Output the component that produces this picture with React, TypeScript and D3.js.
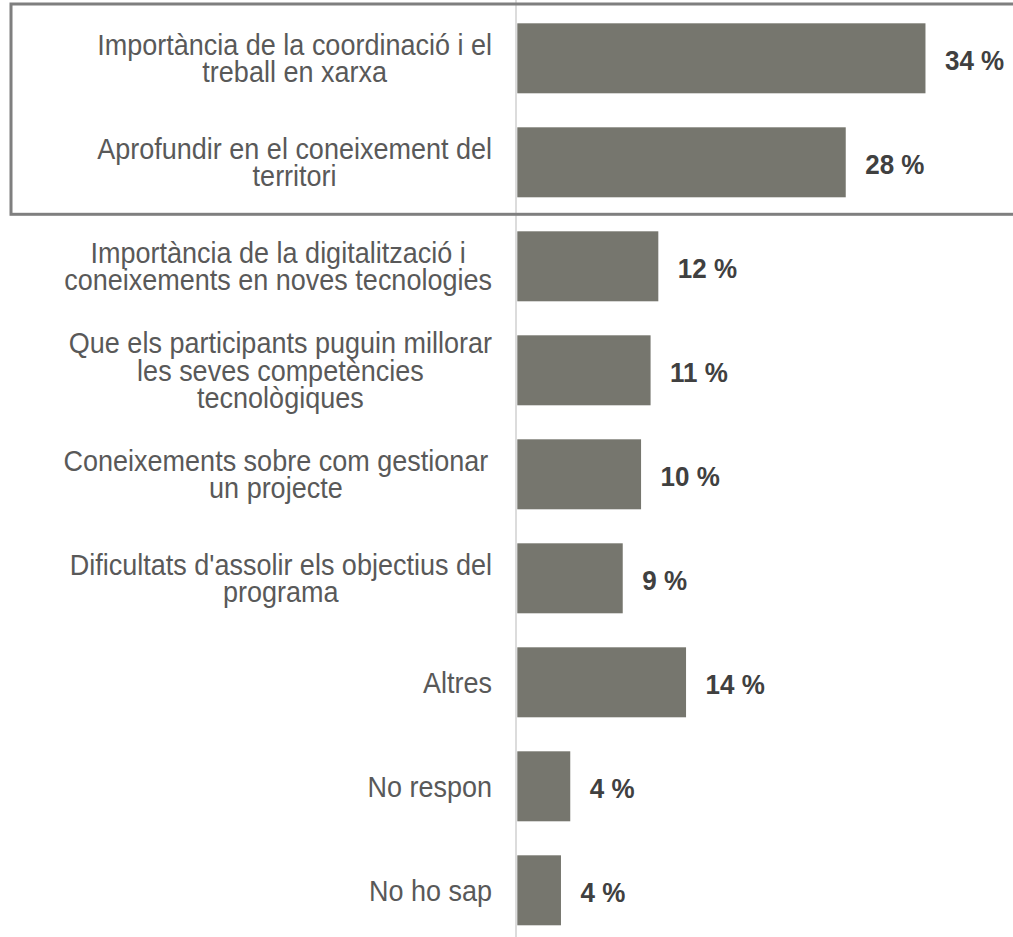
import React from "react";
import * as d3 from "d3";

const categories = [
  "coordinacio",
  "territori",
  "digitalitzacio",
  "competencies",
  "projecte",
  "objectius",
  "altres",
  "norespon",
  "nohosap",
];

const labelLines: string[][] = [
  ["Importància de la coordinació i el", "treball en xarxa"],
  ["Aprofundir en el coneixement del", "territori"],
  ["Importància de la digitalització i", "coneixements en noves tecnologies"],
  ["Que els participants puguin millorar", "les seves competències", "tecnològiques"],
  ["Coneixements sobre com gestionar ", "un projecte"],
  ["Dificultats d'assolir els objectius del", "programa"],
  ["Altres"],
  ["No respon"],
  ["No ho sap"],
];

const values = [34.3, 27.6, 11.85, 11.2, 10.4, 8.86, 14.18, 4.45, 3.67];

const highlighted = ["coordinacio", "territori"];

const W = 1013;
const H = 937;
const CAT_FONT = 27;
const VAL_FONT = 26;
const LINE_H = 27.4;
const LABEL_RIGHT = 492;
const CAT_STRETCH = 1.06;
const VAL_STRETCH = 1.08;

let ctx: CanvasRenderingContext2D | null = null;
function measure(text: string, font: string) {
  if (!ctx) ctx = document.createElement("canvas").getContext("2d");
  if (!ctx) return text.length * 12;
  ctx.font = font;
  return ctx.measureText(text).width;
}

export default function App() {
  const x = d3.scaleLinear().domain([0, 40]).range([517.3, 993.3]);
  const y = d3
    .scaleBand<string>()
    .domain(categories)
    .range([6.3, 942.3])
    .paddingInner(0.327)
    .paddingOuter(0.1635);
  const bw = y.bandwidth();
  const gap = y.step() - bw;

  const boxTop = (y(highlighted[0]) as number) - gap / 2 - 2.3;
  const boxBottom = (y(highlighted[highlighted.length - 1]) as number) + bw + gap / 2;

  const catFont = `${CAT_FONT}px 'Liberation Sans', Arial, sans-serif`;

  return (
    <svg
      width={W}
      height={H}
      style={{ position: "absolute", left: 0, top: 0, background: "#fff" }}
      fontFamily="'Liberation Sans', Arial, sans-serif"
    >
      <rect x={0} y={0} width={W} height={H} fill="#fff" />
      {/* axis line */}
      <line x1={516} x2={516} y1={0} y2={H} stroke="#d9d9d9" strokeWidth={1.8} />
      {/* bars */}
      {categories.map((c, i) => (
        <rect
          key={c}
          x={x(0)}
          y={y(c)}
          width={x(values[i]) - x(0)}
          height={bw}
          fill="#76766e"
        />
      ))}
      {/* value labels */}
      {categories.map((c, i) => {
        const cy = (y(c) as number) + bw / 2 + 1.7;
        return (
          <text
            key={c}
            x={x(values[i]) + 19.5}
            y={cy + 0.358 * VAL_FONT}
            fontSize={VAL_FONT}
            fontWeight="bold"
            fill="#404040"
            transform={`translate(0,${cy}) scale(1,${VAL_STRETCH}) translate(0,${-cy})`}
          >
            {Math.round(values[i]) + " %"}
          </text>
        );
      })}
      {/* category labels */}
      {categories.map((c, i) => {
        const lines = labelLines[i];
        const maxW = Math.max(...lines.map((l) => measure(l, catFont)));
        const cx = LABEL_RIGHT - maxW / 2;
        const cy = (y(c) as number) + bw / 2;
        return (
          <text
            key={c}
            fontSize={CAT_FONT}
            fill="#595959"
            textAnchor="middle"
            transform={`translate(0,${cy}) scale(1,${CAT_STRETCH}) translate(0,${-cy})`}
          >
            {lines.map((l, j) => (
              <tspan
                key={j}
                x={cx}
                y={cy + ((j - (lines.length - 1) / 2) * LINE_H) / CAT_STRETCH + 0.358 * CAT_FONT}
              >
                {l.trim()}
              </tspan>
            ))}
          </text>
        );
      })}
      {/* highlight box */}
      <rect
        x={11}
        y={boxTop}
        width={W + 10}
        height={boxBottom - boxTop}
        fill="none"
        stroke="#7f7f7f"
        strokeWidth={3}
      />
    </svg>
  );
}
